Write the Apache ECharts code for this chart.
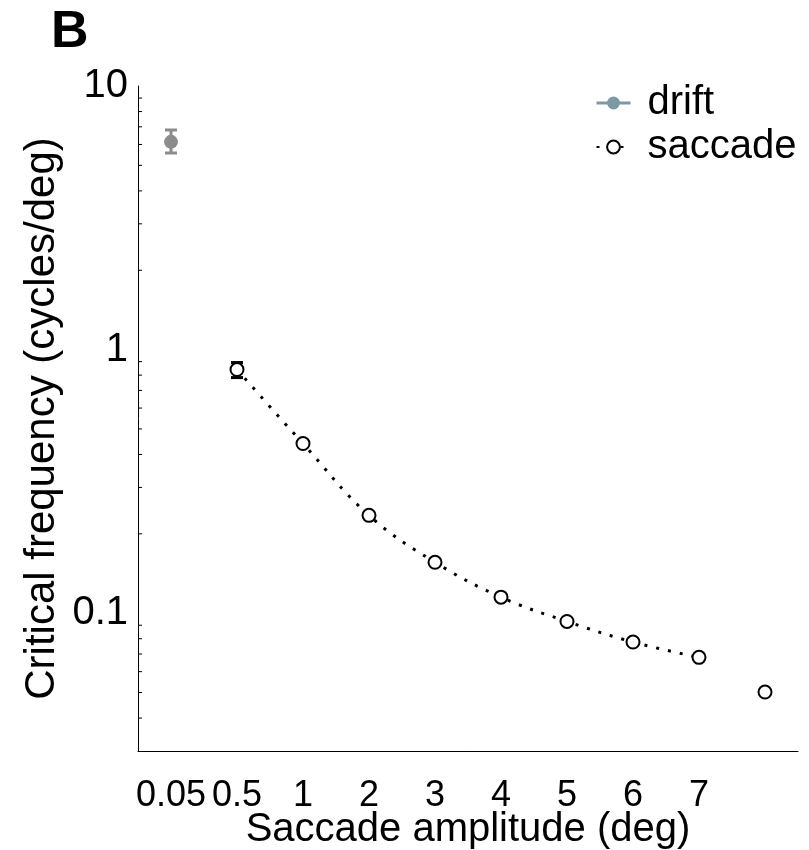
<!DOCTYPE html>
<html>
<head>
<meta charset="utf-8">
<script src="https://cdn.jsdelivr.net/npm/echarts@6/dist/echarts.min.js"></script>
<style>
  html, body { margin: 0; padding: 0; background: #fff; }
  #chart { width: 809px; height: 850px; }
</style>
</head>
<body>
<div id="chart"></div>
<script>
// x categories (last position has no label)
const amplitudeLabels = ['0.05', '0.5', '1', '2', '3', '4', '5', '6', '7', '']

// drift: one point at first category, with error bar
const driftFreq = 6.14
const driftErr = [5.57, 6.81]

// saccade critical frequencies, categories 1..9
const saccadeFreq = [0.84, 0.44, 0.235, 0.156, 0.115, 0.093, 0.0777, 0.068, 0.0502]
const saccadeErr = [[0.783, 0.893]]   // only visible bar (0.5 deg)
const fitCount = 8                     // dotted curve covers 0.5..7 deg

// log-axis minor ticks
const minorTickValues = [0.04, 0.05, 0.06, 0.07, 0.08, 0.09,
  0.2, 0.3, 0.4, 0.5, 0.6, 0.7, 0.8, 0.9,
  2, 3, 4, 5, 6, 7, 8, 9]

const FONT = 'Liberation Sans, Arial, Helvetica, sans-serif'

const chart = echarts.init(document.getElementById('chart'))

const fitData = amplitudeLabels.map((_, i) =>
  (i >= 1 && i <= fitCount) ? saccadeFreq[i - 1] : '-')
const lastData = amplitudeLabels.map((_, i) =>
  (i > fitCount) ? saccadeFreq[i - 1] : '-')
const driftData = amplitudeLabels.map((_, i) => i === 0 ? driftFreq : '-')

const errData = [
  { value: [0, driftErr[0], driftErr[1]], itemStyle: { color: '#8c8c8c' } },
  ...saccadeErr.map((e, i) => ({ value: [i + 1, e[0], e[1]], itemStyle: { color: '#000' } }))
]

function renderErr(params, api) {
  const lo = api.coord([api.value(0), api.value(1)])
  const hi = api.coord([api.value(0), api.value(2)])
  const color = api.visual('color')
  const w = 6
  const style = { stroke: color, lineWidth: 3 }
  return {
    type: 'group',
    children: [
      { type: 'line', shape: { x1: lo[0], y1: lo[1], x2: hi[0], y2: hi[1] }, style },
      { type: 'line', shape: { x1: lo[0] - w, y1: lo[1], x2: lo[0] + w, y2: lo[1] }, style },
      { type: 'line', shape: { x1: hi[0] - w, y1: hi[1], x2: hi[0] + w, y2: hi[1] }, style }
    ]
  }
}

function renderMinorTick(params, api) {
  const p = api.coord([0, api.value(0)])
  const x0 = params.coordSys.x
  return {
    type: 'line',
    shape: { x1: x0, y1: p[1], x2: x0 + 4, y2: p[1] },
    style: { stroke: '#000', lineWidth: 1 }
  }
}

const option = {
  animation: false,
  backgroundColor: '#fff',
  textStyle: { fontFamily: FONT },
  graphic: [{
    type: 'text', left: 51, top: 7,
    style: { text: 'B', font: 'bold 52px ' + FONT, fill: '#000' }
  }],
  legend: {
    orient: 'vertical',
    left: 590,
    top: 78,
    itemWidth: 34,
    itemHeight: 16,
    itemGap: 4,
    textStyle: { fontSize: 40, color: '#000', fontFamily: FONT, padding: [0, 0, 0, 12] },
    data: [
      { name: 'drift', itemStyle: { color: '#7f98a5' }, lineStyle: { color: '#7f98a5', width: 3, type: 'solid' } },
      { name: 'saccade' }
    ]
  },
  grid: { left: 138, right: 11, top: 86, bottom: 99, containLabel: false, outerBoundsMode: 'none' },
  xAxis: {
    type: 'category',
    data: amplitudeLabels,
    boundaryGap: true,
    name: 'Saccade amplitude (deg)',
    nameLocation: 'middle',
    nameGap: 59,
    nameMoveOverlap: false,
    nameTextStyle: { fontSize: 40, color: '#000', fontFamily: FONT },
    axisLine: { lineStyle: { color: '#000', width: 1 } },
    axisTick: { inside: true, length: 7, alignWithLabel: true, interval: (i) => i < 9, lineStyle: { color: '#000' } },
    axisLabel: { fontSize: 36, color: '#000', margin: 27, interval: 0, fontFamily: FONT },
    splitLine: { show: false }
  },
  yAxis: {
    type: 'log',
    logBase: 10,
    min: 0.03,
    max: 10,
    name: 'Critical frequency (cycles/deg)',
    nameLocation: 'middle',
    nameGap: 75,
    nameMoveOverlap: false,
    nameTextStyle: { fontSize: 42, color: '#000', fontFamily: FONT },
    axisLine: { show: true, lineStyle: { color: '#000', width: 1 } },
    axisTick: { inside: true, length: 7, lineStyle: { color: '#000' } },
    axisLabel: { fontSize: 40, color: '#000', margin: 10, showMinLabel: false, fontFamily: FONT },
    splitLine: { show: false }
  },
  series: [
    {
      name: 'minor',
      type: 'custom',
      data: minorTickValues.map(v => [v]),
      encode: { y: 0 },
      renderItem: renderMinorTick,
      silent: true,
      z: 1
    },
    {
      name: 'err',
      type: 'custom',
      data: errData,
      encode: { x: 0, y: [1, 2] },
      renderItem: renderErr,
      z: 2
    },
    {
      name: 'drift',
      type: 'line',
      data: driftData,
      symbol: 'circle',
      symbolSize: 14,
      itemStyle: { color: '#8c8c8c' },
      lineStyle: { color: '#8c8c8c' },
      z: 3
    },
    {
      name: 'saccade',
      type: 'line',
      data: fitData,
      smooth: 0.4,
      symbol: 'emptyCircle',
      symbolSize: 13,
      showSymbol: true,
      showAllSymbol: true,
      itemStyle: { color: '#000', borderColor: '#000', borderWidth: 2 },
      lineStyle: { color: '#000', width: 3, type: [3, 9], cap: 'butt' },
      z: 4
    },
    {
      name: 'saccade',
      type: 'scatter',
      data: lastData,
      symbol: 'emptyCircle',
      symbolSize: 13,
      itemStyle: { color: '#000', borderColor: '#000', borderWidth: 2, opacity: 1 },
      z: 4
    }
  ]
}

chart.setOption(option)
</script>
</body>
</html>
